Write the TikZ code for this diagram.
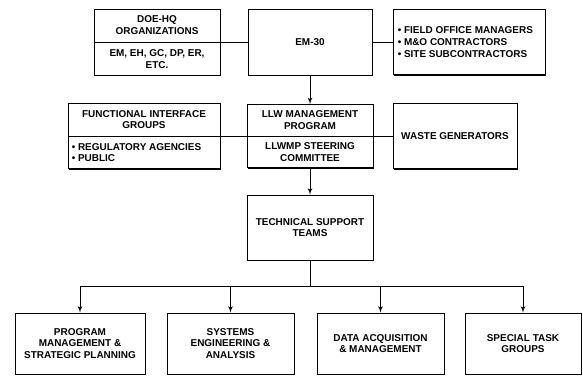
\documentclass[tikz,border=0pt]{standalone}
\usepackage{fontspec}
\setmainfont{Liberation Sans}
\usetikzlibrary{positioning,arrows,calc,shapes,shadows}
\tikzset{
    box/.style = {
        draw,
        shape=rectangle,
        fill=white,
        minimum height=1.95cm,
        minimum width=3.78cm,
        line width=0.8pt,
        drop shadow={shadow xshift=1.2pt, shadow yshift=-1.2pt, opacity=1, fill=black}
    },
    wide/.style = {
        box,
        minimum width=4.56cm
    },
    team/.style = {
        box,
        minimum height=1.83cm,
        minimum width=3.81cm
    },
    txt/.style = {
        inner sep=0pt,
        align=center,
        font=\fontsize{8.5}{10}\selectfont\bfseries
    },
    list/.style = {
        txt,
        align=left,
        anchor=west
    },
    link/.style = {
        line width=0.8pt
    },
    >=latex',
}

\begin{document}
\begin{tikzpicture}[x=0.03cm, y=-0.03cm]
            \useasboundingbox (0,0) rectangle (583,377);

            % top row
            \node[box, minimum height=1.98cm] (doehq) at (157,42) {};
            \node[box, minimum height=1.98cm, minimum width=3.72cm] (em30) at (310,42) {};
            \node[wide] (field) at (469,42) {};
            % middle row
            \node[wide] (funct) at (144,136) {};
            \node[box, minimum height=1.89cm] (llw) at (310,136) {};
            \node[box, minimum width=3.72cm] (waste) at (455,136) {};
            \node[box] (tech) at (310,227.5) {};
            % bottom row
            \node[team, minimum width=3.9cm] (prog) at (80,343.5) {};
            \node[team] (syst) at (230.5,343.5) {};
            \node[team] (data) at (380.5,343.5) {};
            \node[team, minimum width=3.48cm] (task) at (523,343.5) {};

            \draw[link] (doehq.west) -- (doehq.east);
            \draw[link] (funct.west) -- (funct.east);
            \draw[link] (llw.west) -- (llw.east);

            \node[txt] (doehqtop) at ($(doehq.north)!0.5!(doehq.center)$) {DOE-HQ\\ORGANIZATIONS};
            \node[txt] (doehqbot) at ($(doehq.south)!0.5!(doehq.center)$) {EM, EH, GC, DP, ER,\\ETC.};
            \node[txt] (em30txt) at (em30) {EM-30};
            \node[list] (fieldtxt) at ([xshift=0.15cm]field.west) {• FIELD OFFICE MANAGERS\\• M\&O CONTRACTORS\\• SITE SUBCONTRACTORS};
            \node[txt] (functtop) at ($(funct.north)!0.5!(funct.center)$) {FUNCTIONAL INTERFACE\\GROUPS};
            \node[list] (functbot) at ([xshift=0.12cm]$(funct.south west)!0.5!(funct.west)$) {• REGULATORY AGENCIES\\• PUBLIC};
            \node[txt] (llwtop) at ($(llw.north)!0.5!(llw.center)$) {LLW MANAGEMENT\\PROGRAM};
            \node[txt] (llwbot) at ($(llw.south)!0.5!(llw.center)$) {LLWMP STEERING\\COMMITTEE};
            \node[txt] (wastetxt) at (waste) {WASTE GENERATORS};
            \node[txt] (techtxt) at (tech) {TECHNICAL SUPPORT\\TEAMS};
            \node[txt] (progtxt) at (prog) {PROGRAM\\MANAGEMENT \&\\STRATEGIC PLANNING};
            \node[txt] (systtxt) at (syst) {SYSTEMS\\ENGINEERING \&\\ANALYSIS};
            \node[txt] (datatxt) at (data) {DATA ACQUISITION\\\& MANAGEMENT};
            \node[txt] (tasktxt) at (task) {SPECIAL TASK\\GROUPS};

            \path[draw, link] (doehq) -- (em30);
            \path[draw, link] (em30) -- (field);
            \path[draw, link] (funct) -- (llw);
            \path[draw, link] (llw) -- (waste);
            \path[draw, link, ->] (em30) -- (llw);
            \path[draw, link, ->] (llw) -- (tech);

            \coordinate (bus) at (310,286);
            \path[draw, link] (tech) -- (bus);
            \path[draw, link, ->] (bus) -| (prog);
            \path[draw, link, ->] (bus) -| (syst);
            \path[draw, link, ->] (bus) -| (data);
            \path[draw, link, ->] (bus) -| (task);

\end{tikzpicture}
\end{document}
